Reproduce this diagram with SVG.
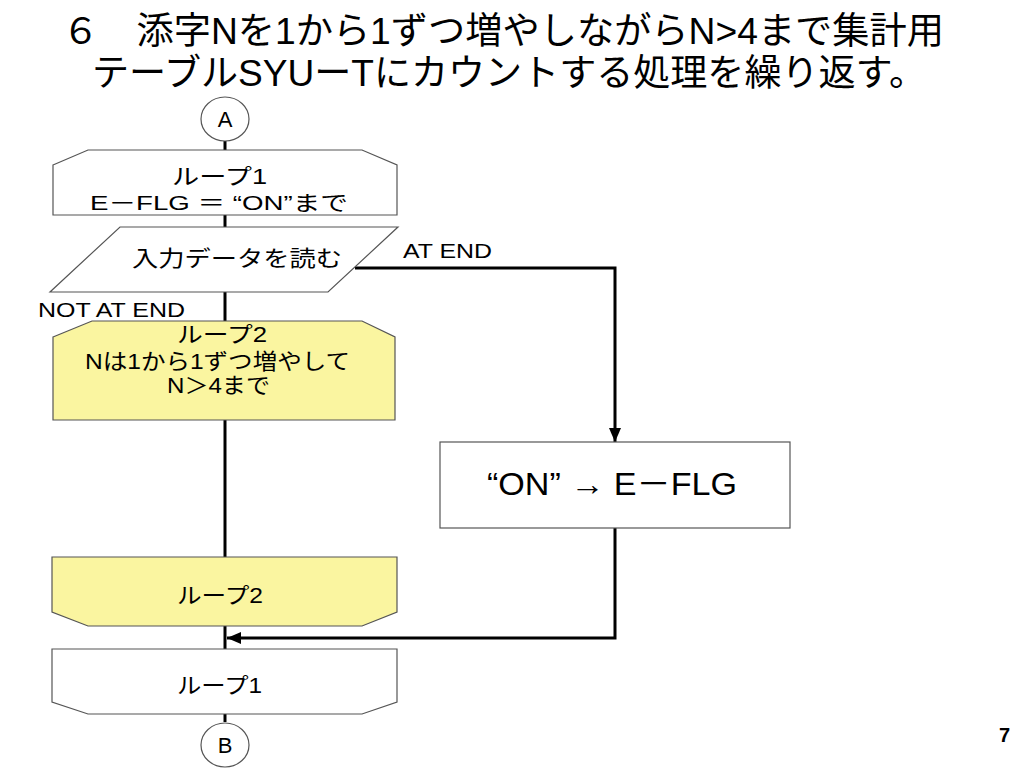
<svg xmlns="http://www.w3.org/2000/svg" width="1024" height="768" viewBox="0 0 1024 768">
<defs>
<marker id="arr" markerWidth="14" markerHeight="12" refX="14" refY="6" orient="auto" markerUnits="userSpaceOnUse">
<path d="M0,0 L14,6 L0,12 Z" fill="#000"/>
</marker>
<style>
.t{font-family:"Liberation Sans","Noto Sans CJK JP",sans-serif;fill:#000}
.shape{stroke:#555;stroke-width:1.2;fill:#fff}
.yel{fill:#FAF5A0}
.con{stroke:#000;stroke-width:3;fill:none}
</style>
</defs>
<rect width="1024" height="768" fill="#fff"/>
<g id="title">
<text class="t" x="62" y="44" font-size="37" textLength="882" lengthAdjust="spacingAndGlyphs">６　添字Nを1から1ずつ増やしながらN&gt;4まで集計用</text>
<text class="t" x="92" y="86" font-size="37" textLength="834" lengthAdjust="spacingAndGlyphs">テーブルSYUーTにカウントする処理を繰り返す。</text>
</g>
<g id="connectors">
<line class="con" x1="225" y1="141" x2="225" y2="151"/>
<line class="con" x1="225" y1="215" x2="225" y2="228"/>
<line class="con" x1="225" y1="292" x2="225" y2="322"/>
<line class="con" x1="225" y1="420" x2="225" y2="558"/>
<line class="con" x1="225" y1="626" x2="225" y2="650"/>
<line class="con" x1="225" y1="714" x2="225" y2="722"/>
<polyline class="con" points="355,268 615,268 615,442" marker-end="url(#arr)"/>
<polyline class="con" points="615,528 615,638 227,638" marker-end="url(#arr)"/>
<text class="t" x="403" y="258" font-size="21" textLength="89" lengthAdjust="spacingAndGlyphs">AT END</text>
<text class="t" x="38" y="317" font-size="21" textLength="147" lengthAdjust="spacingAndGlyphs">NOT AT END</text>
</g>
<g id="circleA">
<ellipse class="shape" cx="225" cy="119" rx="24" ry="22"/>
<text class="t" x="225" y="127" font-size="22" text-anchor="middle">A</text>
</g>
<g id="loop1start">
<polygon class="shape" points="53,165 88,150 362,150 397,165 397,215 53,215"/>
<text class="t" x="172" y="184" font-size="22" textLength="95" lengthAdjust="spacingAndGlyphs">ループ1</text>
<text class="t" x="90" y="210" font-size="21" textLength="258" lengthAdjust="spacingAndGlyphs">E－FLG ＝ “ON”まで</text>
</g>
<g id="read">
<polygon class="shape" points="120,227 398,227 328,292 50,292"/>
<text class="t" x="132" y="266" font-size="22" textLength="210" lengthAdjust="spacingAndGlyphs">入力データを読む</text>
</g>
<g id="loop2start">
<polygon class="shape yel" points="53,337 92,321 362,321 395,337 395,420 53,420"/>
<text class="t" x="177" y="342" font-size="22" textLength="90" lengthAdjust="spacingAndGlyphs">ループ2</text>
<text class="t" x="85" y="369" font-size="22" textLength="265" lengthAdjust="spacingAndGlyphs">Nは1から1ずつ増やして</text>
<text class="t" x="167" y="393" font-size="22" textLength="103" lengthAdjust="spacingAndGlyphs">N＞4まで</text>
</g>
<g id="setflag">
<rect class="shape" x="440" y="442" width="350" height="86"/>
<text class="t" x="487" y="495" font-size="32" textLength="250" lengthAdjust="spacingAndGlyphs">“ON” → E－FLG</text>
</g>
<g id="loop2end">
<polygon class="shape yel" points="52,557 397,557 397,612 362,626 88,626 52,612"/>
<text class="t" x="177" y="603" font-size="22" textLength="86" lengthAdjust="spacingAndGlyphs">ループ2</text>
</g>
<g id="loop1end">
<polygon class="shape" points="52,649 397,649 397,702 362,714 88,714 52,702"/>
<text class="t" x="177" y="693" font-size="22" textLength="85" lengthAdjust="spacingAndGlyphs">ループ1</text>
</g>
<g id="circleB">
<ellipse class="shape" cx="225" cy="745" rx="24" ry="22"/>
<text class="t" x="225" y="753" font-size="22" text-anchor="middle">B</text>
</g>
<g id="pagenum">
<text class="t" x="1010" y="742" font-size="20" font-weight="bold" text-anchor="end">7</text>
</g>
</svg>
